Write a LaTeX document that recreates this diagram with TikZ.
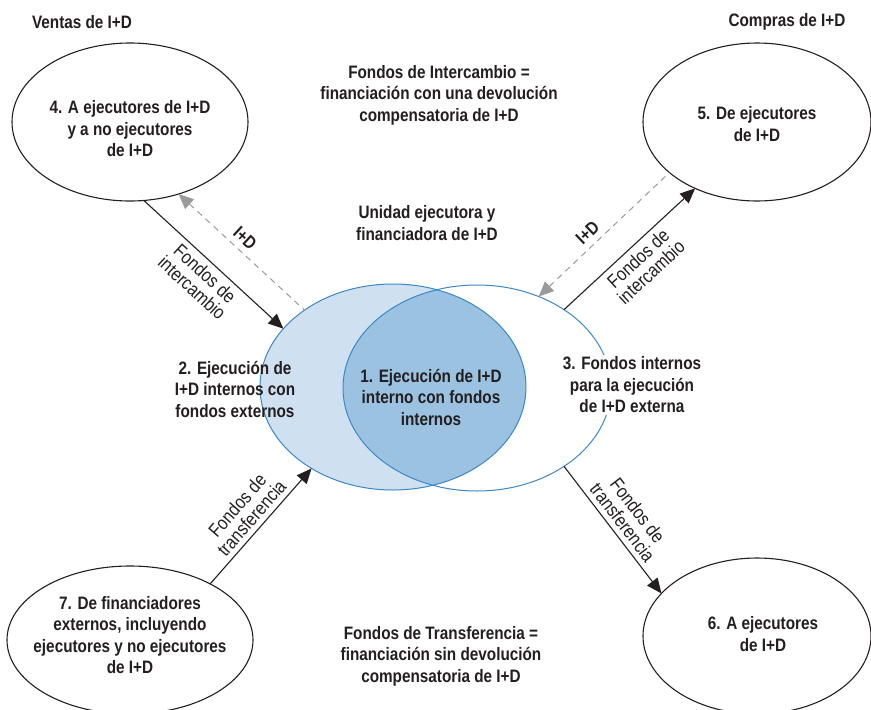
\documentclass[tikz,border=0pt]{standalone}
\usepackage{fontspec}
\setmainfont{Liberation Sans}[FakeStretch=0.85]
\usetikzlibrary{shapes.geometric,arrows.meta}
\definecolor{ink}{HTML}{231F20}
\definecolor{lightblue}{HTML}{CFE1F1}
\definecolor{midblue}{HTML}{9CC2E1}
\definecolor{vennline}{HTML}{3A88C8}
\definecolor{dashgray}{HTML}{9A9A9A}
\tikzset{
  bubble/.style={ellipse, draw=ink, line width=1.1pt, inner sep=0pt, outer sep=0pt},
  vennring/.style={ellipse, draw=vennline, line width=1pt, inner sep=0pt, outer sep=0pt, minimum height=206pt},
  txt/.style={align=center, text=ink, font=\fontsize{18}{21.5}\selectfont\bfseries},
  lab/.style={align=center, text=ink, font=\fontsize{19}{19}\selectfont, inner sep=2pt},
  idlab/.style={text=ink, font=\fontsize{18}{20}\selectfont\bfseries, inner sep=3pt},
  flow/.style={draw=ink, line width=1.1pt, -{Triangle[length=15pt,width=13pt]}},
  backflow/.style={draw=dashgray, line width=1pt, dash pattern=on 6pt off 5pt, {Triangle[length=15pt,width=13pt]}-},
}
\begin{document}
\begin{tikzpicture}[x=1pt,y=-1pt]
\useasboundingbox (0,0) rectangle (871,710);
\begin{scope}
\clip (0,0) rectangle (871,710);
% outer bubbles
\node[bubble, minimum width=236pt, minimum height=158pt] (e4) at (130,122) {};
\node[bubble, minimum width=228pt, minimum height=158pt] (e5) at (757,122) {};
\node[bubble, minimum width=246pt, minimum height=148pt] (e7) at (130,640) {};
\node[bubble, minimum width=228pt, minimum height=156pt] (e6) at (757,636) {};
\end{scope}
% Venn fills
\fill[lightblue] (393,387) ellipse [x radius=133pt, y radius=103pt];
\begin{scope}
\clip (393,387) ellipse [x radius=133pt, y radius=103pt];
\fill[midblue] (477,388) ellipse [x radius=134pt, y radius=103pt];
\end{scope}
\node[vennring, minimum width=266pt] (L) at (393,387) {};
\node[vennring, minimum width=268pt] (R) at (477,388) {};
% texts
\node[txt] (hv) at (82,22) {Ventas de I+D};
\node[txt] (hc) at (787,22) {Compras de I+D};
\node[txt] (fi) at (439,95) {Fondos de Intercambio =\\financiación con una devolución\\compensatoria de I+D};
\node[txt] (ue) at (427,223) {Unidad ejecutora y\\financiadora de I+D};
\node[txt] (ft) at (441,656) {Fondos de Transferencia =\\financiación sin devolución\\compensatoria de I+D};
\node[txt] (t4) at (130,129) {4. A ejecutores de I+D\\y a no ejecutores\\de I+D};
\node[txt] (t5) at (757,124) {5. De ejecutores\\de I+D};
\node[txt] (t6) at (763,634) {6. A ejecutores\\de I+D};
\node[txt] (t7) at (130,635) {7. De financiadores\\externos, incluyendo\\ejecutores y no ejecutores\\de I+D};
\node[txt] (t1) at (431,397) {1. Ejecución de I+D\\interno con fondos\\internos};
\node[txt] (t2) at (235,389) {2. Ejecución de\\I+D internos con\\fondos externos};
\node[txt, fill=white, inner sep=2pt] (t3) at (632,385) {3. Fondos internos\\para la ejecución\\de I+D externa};
% connectors
\draw[flow] (e4.-80.7) -- node[lab, sloped, below=3pt]{Fondos de\\intercambio} (L.152.4);
\draw[backflow] (e4.-56.7) -- node[idlab, sloped, above=3pt, pos=0.46]{I+D} (L.139.8);
\draw[flow] (R.42.6) -- node[lab, sloped, below=3pt]{Fondos de\\intercambio} (e5.227.6);
\draw[backflow] (R.56.6) -- node[idlab, sloped, above=3pt, pos=0.44]{I+D} (e5.210.8);
\draw[flow] (e7.35.6) -- node[lab, sloped, above=3pt]{Fondos de\\transferencia} (L.225);
\draw[flow] (R.-42.9) -- node[lab, sloped, above=3pt]{Fondos de\\transferencia} (e6.156.1);
\end{tikzpicture}
\end{document}
